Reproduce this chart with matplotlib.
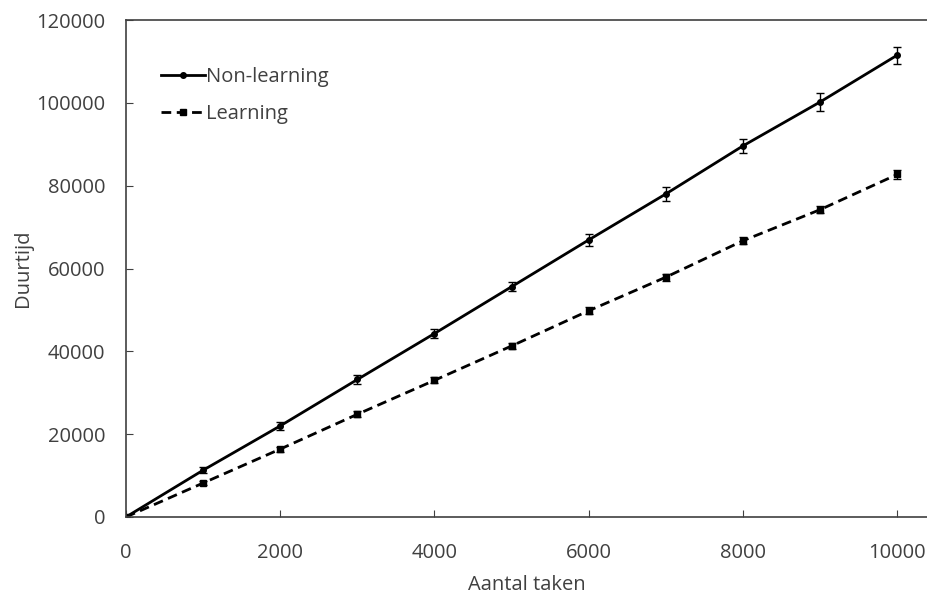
import numpy as np
import matplotlib.pyplot as plt

plt.rcParams['font.family'] = ['Open Sans', 'DejaVu Sans']

# aantal taken
X = [0, 1000, 2000, 3000, 4000, 5000, 6000, 7000, 8000, 9000, 10000]
# duurtijd, non-learning
y_non = [0, 11300, 22000, 33200, 44300, 55600, 66900, 78000, 89600, 100200, 111500]
err_non = [0, 700, 900, 1000, 1100, 1100, 1500, 1600, 1600, 2100, 2100]
# duurtijd, learning
y_learn = [0, 8200, 16400, 24800, 33000, 41300, 49800, 57900, 66700, 74200, 82700]
err_learn = [0, 500, 600, 700, 700, 700, 800, 800, 900, 900, 1000]

fig = plt.figure(figsize=(9.28, 5.94), dpi=100)
ax = fig.add_axes([126/928, 77/594, 802/928, 497/594])

ax.plot(X, y_non, color='black', marker='o', markersize=4, linestyle='-',
        linewidth=2, label='Non-learning')
ax.plot(X, y_learn, color='black', marker='s', markersize=4,
        linestyle=(0, (3.5, 2)), linewidth=2, label='Learning')
ax.errorbar(X, y_non, yerr=err_non, fmt='none', ecolor='black', capsize=3, elinewidth=1)
ax.errorbar(X, y_learn, yerr=err_learn, fmt='none', ecolor='black', capsize=3, elinewidth=1)

# assen
ax.set_xlim(0, 10400)
ax.set_ylim(0, 120000)
ax.set_xticks(np.arange(0, 10001, 2000))
ax.set_yticks(np.arange(0, 120001, 20000))
ax.tick_params(direction='in', length=5, color='#404040', labelcolor='#404040',
               labelsize=14.5)
ax.tick_params(axis='x', pad=19)
ax.tick_params(axis='y', pad=15)
for s in ['left', 'bottom', 'top']:
    ax.spines[s].set_color('#404040')
    ax.spines[s].set_linewidth(1.2)
ax.spines['right'].set_visible(False)

ax.set_xlabel('Aantal taken', fontsize=14.5, color='#404040', labelpad=8)
ax.set_ylabel('Duurtijd', fontsize=14.5, color='#404040', labelpad=2)

ax.legend(loc='upper left', bbox_to_anchor=(0.021, 0.941), frameon=False,
          fontsize=14.5, handlelength=2.2, handletextpad=0.05, labelspacing=0.8,
          labelcolor='#404040')

plt.savefig('out.png', dpi=100)
